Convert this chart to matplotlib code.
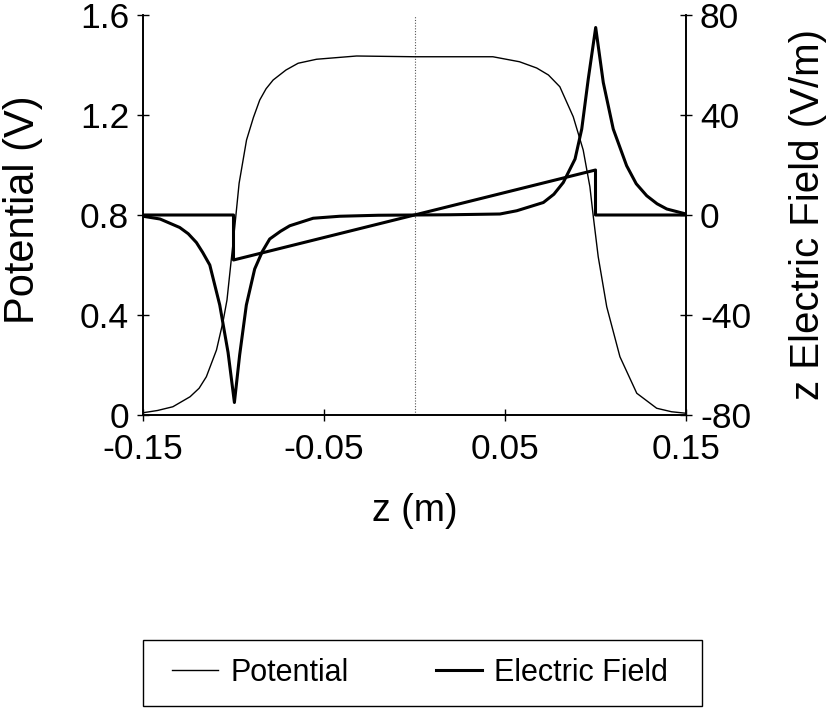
import matplotlib
matplotlib.use("Agg")
import matplotlib.pyplot as plt
from matplotlib.lines import Line2D
from matplotlib.patches import Rectangle

plt.rcParams['font.family'] = ['Liberation Sans', 'DejaVu Sans']

# Potential (left axis, V)
potential_z = [-0.150, -0.142, -0.1335, -0.124, -0.119, -0.115, -0.1094, -0.1058, -0.1036,
               -0.0993, -0.0969, -0.0928, -0.089, -0.0855, -0.082, -0.0781, -0.071,
               -0.0643, -0.0541, -0.032, 0.0, 0.0433, 0.058, 0.0675, 0.074, 0.0803,
               0.0877, 0.0932, 0.0969, 0.0988, 0.1015, 0.1062, 0.1135, 0.1228,
               0.1338, 0.142, 0.150]
potential_v = [0.009, 0.018, 0.033, 0.073, 0.107, 0.153, 0.26, 0.373, 0.46,
               0.753, 0.927, 1.10, 1.19, 1.26, 1.305, 1.34, 1.38,
               1.407, 1.423, 1.436, 1.433, 1.433, 1.413, 1.388, 1.36, 1.313,
               1.193, 1.06, 0.913, 0.793, 0.633, 0.433, 0.233, 0.087,
               0.027, 0.013, 0.007]

# Electric field, spiked curve (right axis, V/m)
field_z = [-0.150, -0.1406, -0.1297, -0.125, -0.1205, -0.117, -0.1131, -0.1076, -0.103,
           -0.0995, -0.0966, -0.0929, -0.0883, -0.084, -0.080, -0.074, -0.0689, -0.056,
           -0.0413, -0.02, 0.0, 0.02, 0.0472, 0.0565, 0.0712, 0.077, 0.0822, 0.0887,
           0.0924, 0.096, 0.1001, 0.1043, 0.1098, 0.1172, 0.1225, 0.1283, 0.134,
           0.1394, 0.150]
field_e = [-0.5, -1.6, -5, -7.5, -11, -15, -20, -36, -55,
           -75, -56, -36, -21.6, -14.5, -9.6, -6.5, -4.3, -1.3,
           -0.5, -0.1, 0, 0.1, 0.4, 1.7, 5, 8.3, 13, 22.4,
           34.4, 54.4, 75, 53, 34.4, 19.7, 12.5, 7.7, 4.5,
           2.4, 0.4]

# Electric field, step-linear curve (right axis, V/m)
step_z = [-0.15, -0.1, -0.1, 0.1, 0.1, 0.15]
step_e = [0, 0, -18, 18, 0, 0]

xticks = [-0.15, -0.05, 0.05, 0.15]
xticklabels = ["-0.15", "-0.05", "0.05", "0.15"]
yticks_left = [0, 0.4, 0.8, 1.2, 1.6]
yticklabels_left = ["0", "0.4", "0.8", "1.2", "1.6"]
yticks_right = [-80, -40, 0, 40, 80]
yticklabels_right = ["-80", "-40", "0", "40", "80"]

W, H = 827, 712
fig = plt.figure(figsize=(W / 100, H / 100), dpi=100)
left, right, top, bottom = 143, 686, 15, 415
ax = fig.add_axes([left / W, 1 - bottom / H, (right - left) / W, (bottom - top) / H])
ax2 = ax.twinx()

ax.axvline(0, color='#555555', lw=0.8, ls=(0, (1, 1.5)), zorder=1)
ax.plot(potential_z, potential_v, color='black', lw=1.0, zorder=3)
ax2.plot(field_z, field_e, color='black', lw=2.2, zorder=3)
ax2.plot(step_z, step_e, color='black', lw=2.2, zorder=3)

ax.set_xlim(-0.15, 0.15)
ax.set_ylim(0, 1.6)
ax2.set_ylim(-80, 80)

ax.set_xticks(xticks)
ax.set_xticklabels(xticklabels)
ax.set_yticks(yticks_left)
ax.set_yticklabels(yticklabels_left)
ax2.set_yticks(yticks_right)
ax2.set_yticklabels(yticklabels_right)

for a in (ax, ax2):
    a.spines['top'].set_visible(False)
    for s in a.spines.values():
        s.set_linewidth(1.2)
    a.tick_params(direction='inout', length=8, width=1.0, labelsize=25.5, pad=4)
ax.tick_params(axis='x', pad=9)
ax.tick_params(axis='y', pad=6)
ax2.tick_params(axis='y', pad=6)

ax.set_xlabel("z (m)", fontsize=27)
ax.set_ylabel("Potential (V)", fontsize=30)
ax2.set_ylabel("z Electric Field (V/m)", fontsize=29, rotation=90)
ax.xaxis.label.set_va('center')
ax.yaxis.label.set_va('center')
ax2.yaxis.label.set_va('center')
ax.xaxis.set_label_coords(0.5, (bottom - 511) / (bottom - top))
ax.yaxis.set_label_coords((23 - left) / (right - left), (bottom - 210) / (bottom - top))
ax2.yaxis.set_label_coords((808 - left) / (right - left), 0.5)

# Legend frame drawn as a rectangle in figure pixels
bx0, bx1, by0, by1 = 143, 702, 640, 706
fig.patches.append(Rectangle((bx0 / W, 1 - by1 / H), (bx1 - bx0) / W, (by1 - by0) / H,
                             transform=fig.transFigure, fill=False,
                             edgecolor='black', lw=1.0))

handles = [Line2D([], [], color='black', lw=1.0),
           Line2D([], [], color='black', lw=2.2)]
leg = fig.legend(handles, ["Potential", "Electric Field"], loc='center',
                 bbox_to_anchor=(420 / W, 1 - 673 / H), ncol=2, fontsize=22,
                 frameon=False, handlelength=1.5,
                 handletextpad=0.4, columnspacing=2.85, borderpad=0,
                 borderaxespad=0)

fig.savefig("out.png", dpi=100)
